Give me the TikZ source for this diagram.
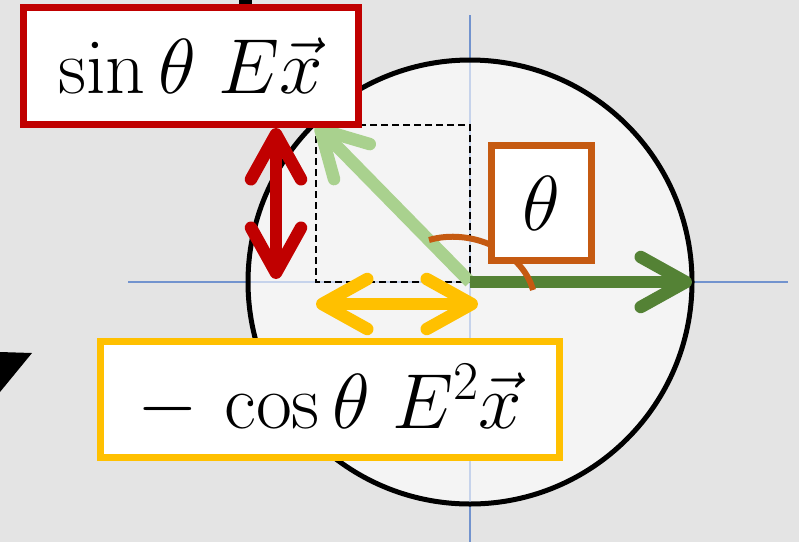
\RequirePackage{fix-cm}
\documentclass[tikz,border=0pt]{standalone}
\usepackage{amsmath, amssymb}
\usepackage{tikz}
\definecolor{rotrand}{RGB}{192,0,0}
\definecolor{gelbrand}{RGB}{255,192,0}
\definecolor{orangerand}{RGB}{197,90,17}
\definecolor{hellgruen}{RGB}{169,209,142}
\definecolor{dunkelgruen}{RGB}{84,130,53}
\definecolor{achsblau}{RGB}{114,147,206}
\definecolor{hintergrund}{RGB}{228,228,228}
\usetikzlibrary{arrows.meta}

\begin{document}
\begin{tikzpicture}[x=1pt, y=-1pt,
			>={Straight Barb[length=45pt,width=50pt,round]},   %Pfeilspitzen
			pfeil/.style={line width=12.5pt, color=#1},
			textbox/.style={draw=#1, line width=7pt, fill=white, inner sep=0pt,
				font=\fontsize{78}{90}\selectfont}]
			%Hintergrund
			\fill[hintergrund] (0,0) rectangle (799,542);
			\useasboundingbox (0,0) rectangle (799,542);
			% Punkte
			\coordinate (O) at (470,282);
			\coordinate (P) at (316,125);
			\coordinate (X) at (692,282);
			\coordinate (s1) at (276,128);
			\coordinate (s2) at (276,279);
			\coordinate (c1) at (316,304);
			\coordinate (c2) at (478,304);
			% Reste am Rand
			\draw[line width=13pt] (245,0) -- (245,12);
			\fill (0,352) -- (32,353) -- (0,392) -- cycle;
			% Achsen
			\draw[achsblau, line width=1.3pt] (128,282) -- (788,282);
			\draw[achsblau, line width=1.3pt] (470,15) -- (470,542);
			% Kreis
			\draw[line width=5pt, fill=white, fill opacity=0.6] (O) circle (222);
			% Projektion
			\draw[dashed, dash pattern=on 7pt off 4pt, line width=2.2pt] (P) rectangle (O);
			% Vektoren
			\draw[pfeil=hellgruen, ->] (O) -- (P);
			\draw[pfeil=dunkelgruen, ->] (O) -- (X);
			\draw[pfeil=rotrand, <->] (s1) -- (s2);
			\draw[pfeil=gelbrand, <->] (c1) -- (c2);
			% Winkel
			\draw[orangerand, line width=6pt] (429,240) .. controls (470,228) and (522,250) .. (533,290);
			% Beschriftung
			\node[textbox=rotrand, minimum width=335pt, minimum height=117pt] (sinlbl) at (190.5,65.5) {$\sin\theta\;E\vec{x}$};
			\node[textbox=gelbrand, minimum width=459pt, minimum height=116pt] (coslbl) at (330,399.5) {$-\,\cos\theta\;E^{2}\vec{x}$};
			\node[textbox=orangerand, minimum width=100pt, minimum height=115pt] (thetalbl) at (541.5,203) {$\theta$};
		\end{tikzpicture}
\end{document}
